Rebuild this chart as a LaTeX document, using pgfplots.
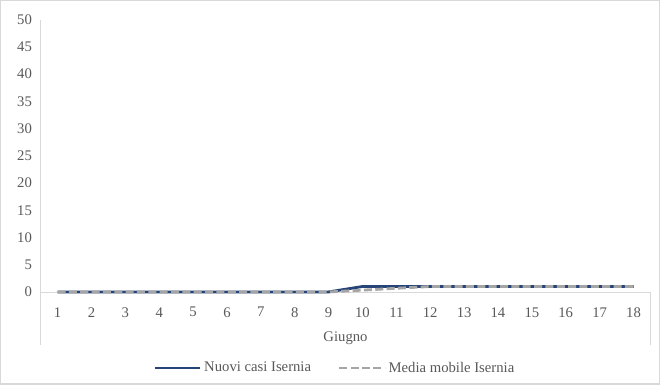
\documentclass[border=0pt]{standalone}
\usepackage{pgfplots}
\pgfplotsset{compat=1.18}
\usepackage{fontspec}
\setmainfont{Liberation Serif}
\definecolor{serieblu}{HTML}{264478}
\definecolor{seriegrigia}{HTML}{A5A5A5}
\definecolor{testo}{HTML}{595959}
\definecolor{assi}{HTML}{D9D9D9}
\definecolor{cornice}{HTML}{D9D9D9}

\begin{document}
\begin{tikzpicture}
\begin{axis}[
    scale only axis,
    width=456.75pt,
    height=204pt,
    xmin=0.5, xmax=18.5,
    ymin=0, ymax=50,
    ytick={0,5,...,50},
    xtick={1,...,18},
    axis x line=bottom,
    axis y line=left,
    axis line style={assi, line width=0.6pt, -},
    major tick length=0pt,
    tick label style={font=\fontsize{11}{13}\selectfont, color=testo},
    /pgf/number format/assume math mode=true,
    yticklabel style={xshift=-3pt},
    xticklabel style={yshift=-8pt},
    xlabel={Giugno},
    xlabel style={font=\fontsize{11}{13}\selectfont, color=testo, yshift=-4pt},
    clip=false,
    legend columns=2,
    legend style={at={(rel axis cs:0.483,-0.279)}, anchor=center, draw=none,
        font=\fontsize{11}{13}\selectfont, text=testo,
        /tikz/every even column/.append style={column sep=18pt}},
    legend image code/.code={\draw[#1, line width=2.1pt] (0pt,0pt) -- (34pt,0pt);},
]
\addplot[serieblu, line width=2.1pt] coordinates {
    (1,0) (2,0) (3,0) (4,0) (5,0) (6,0) (7,0) (8,0) (9,0)
    (10,1) (11,1) (12,1) (13,1) (14,1) (15,1) (16,1) (17,1) (18,1)
};
\addlegendentry{Nuovi casi Isernia}
\addplot[seriegrigia, line width=2.1pt, dash pattern=on 6pt off 2.5pt] coordinates {
    (1,0) (2,0) (3,0) (4,0) (5,0) (6,0) (7,0) (8,0) (9,0)
    (10,0.33) (11,0.67) (12,1) (13,1) (14,1) (15,1) (16,1) (17,1) (18,1)
};
\addlegendentry{Media mobile Isernia}
% separatori della categoria "Giugno"
\draw[assi, line width=0.6pt] (rel axis cs:0,0) -- ++(0pt,-39.75pt);
\draw[assi, line width=0.6pt] (rel axis cs:1,0) -- ++(0pt,-39.75pt);
% cornice del grafico
\draw[cornice, line width=0.8pt] (rel axis cs:-0.0657,-0.338) rectangle (rel axis cs:1.0148,1.0699);
\end{axis}
\end{tikzpicture}
\end{document}
